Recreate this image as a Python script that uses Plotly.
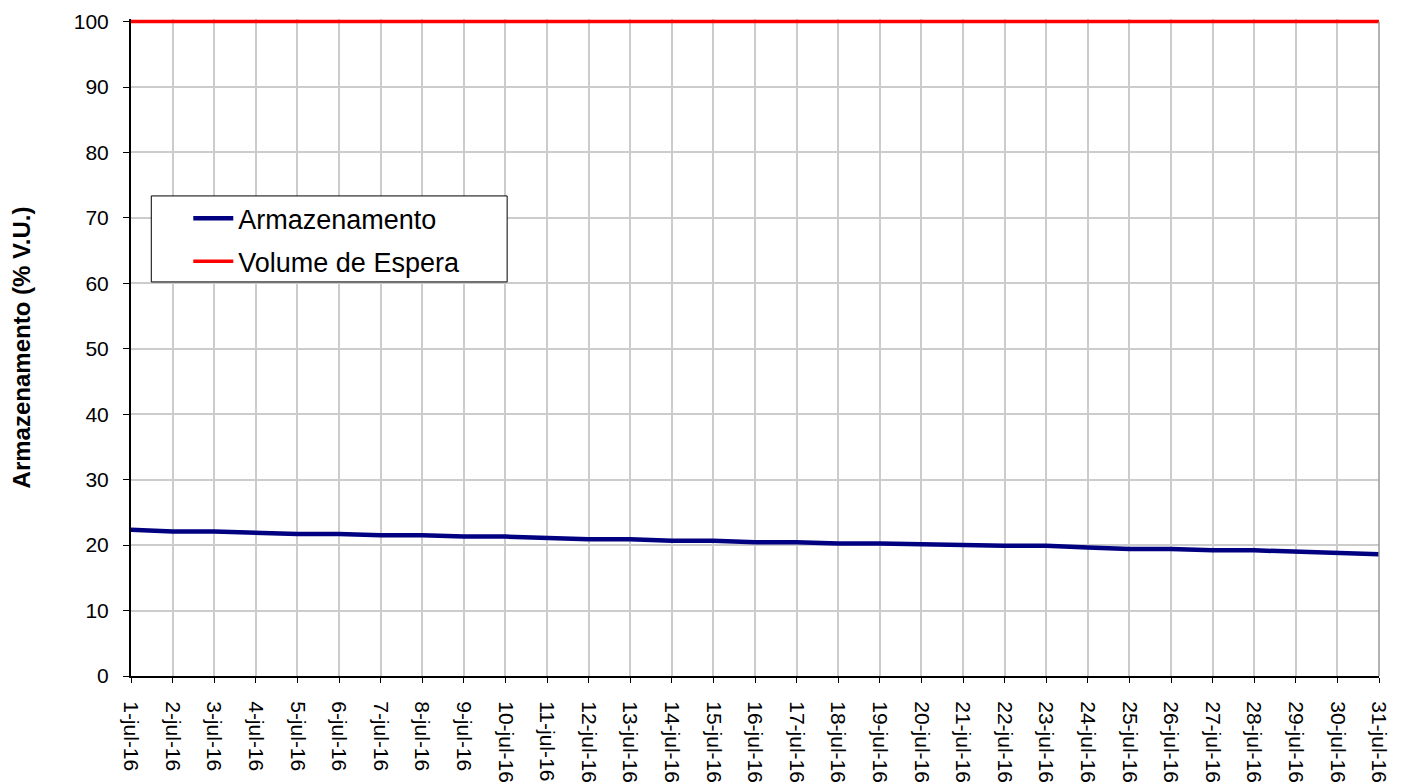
import plotly.graph_objects as go

dias = [f"{d}-jul-16" for d in range(1, 32)]
armazenamento = [22.35, 22.1, 22.1, 21.9, 21.7, 21.7, 21.5, 21.5, 21.3, 21.3,
                 21.1, 20.9, 20.9, 20.65, 20.65, 20.45, 20.45, 20.25, 20.25, 20.05,
                 20.0, 19.9, 19.9, 19.65, 19.4, 19.4, 19.2, 19.2, 19.0, 18.8, 18.6]
volume_espera = [100] * 31
y_ticks = list(range(0, 101, 10))

fig = go.Figure()
fig.add_trace(go.Scatter(x=dias, y=armazenamento, mode="lines", name="Armazenamento",
                         legendgroup="a", line=dict(color="#000080", width=4.5)))
fig.add_trace(go.Scatter(x=dias, y=volume_espera, mode="lines", name="Volume de Espera",
                         legendgroup="b", line=dict(color="#ff0000", width=3.5)))

font = "Liberation Sans, Arial, sans-serif"
fig.update_layout(
    width=1407, height=783,
    margin=dict(l=123, r=36, t=11, b=115),
    paper_bgcolor="white", plot_bgcolor="white",
    font=dict(family=font, color="black"),
    showlegend=True,
    legend=dict(x=0.0459, y=0.7333, xanchor="left", yanchor="top",
                bgcolor="rgba(0,0,0,0)", borderwidth=0,
                font=dict(size=27, family=font), itemwidth=40,
                tracegroupgap=5),
    xaxis=dict(
        type="category", range=[0, 30], tickangle=90,
        tickfont=dict(size=21), showgrid=True, gridcolor="#cccccc", gridwidth=1.5,
        showline=True, linecolor="black", linewidth=2,
        ticks="outside", ticklen=5, tickcolor="black", ticklabelstandoff=14,
        automargin=False, zeroline=False,
    ),
    yaxis=dict(
        range=[0, 100.4], tickvals=y_ticks, tickfont=dict(size=21),
        showgrid=True, gridcolor="#cccccc", gridwidth=1.5,
        showline=True, linecolor="black", linewidth=2,
        ticks="outside", ticklen=6, tickcolor="black", ticklabelstandoff=10,
        title=dict(text="<b>Armazenamento (% V.U.)</b>", font=dict(size=24), standoff=38),
        automargin=False, zeroline=False,
    ),
)
fig.add_shape(type="line", xref="paper", yref="paper", x0=1, x1=1, y0=0, y1=0.996,
              line=dict(color="#999999", width=1.5))
fig.add_shape(type="rect", xref="paper", yref="paper", x0=0.01626, x1=0.3014,
              y0=0.5998, y1=0.7307, fillcolor="white", layer="above",
              line=dict(color="black", width=1))
fig.write_html("out.html")
